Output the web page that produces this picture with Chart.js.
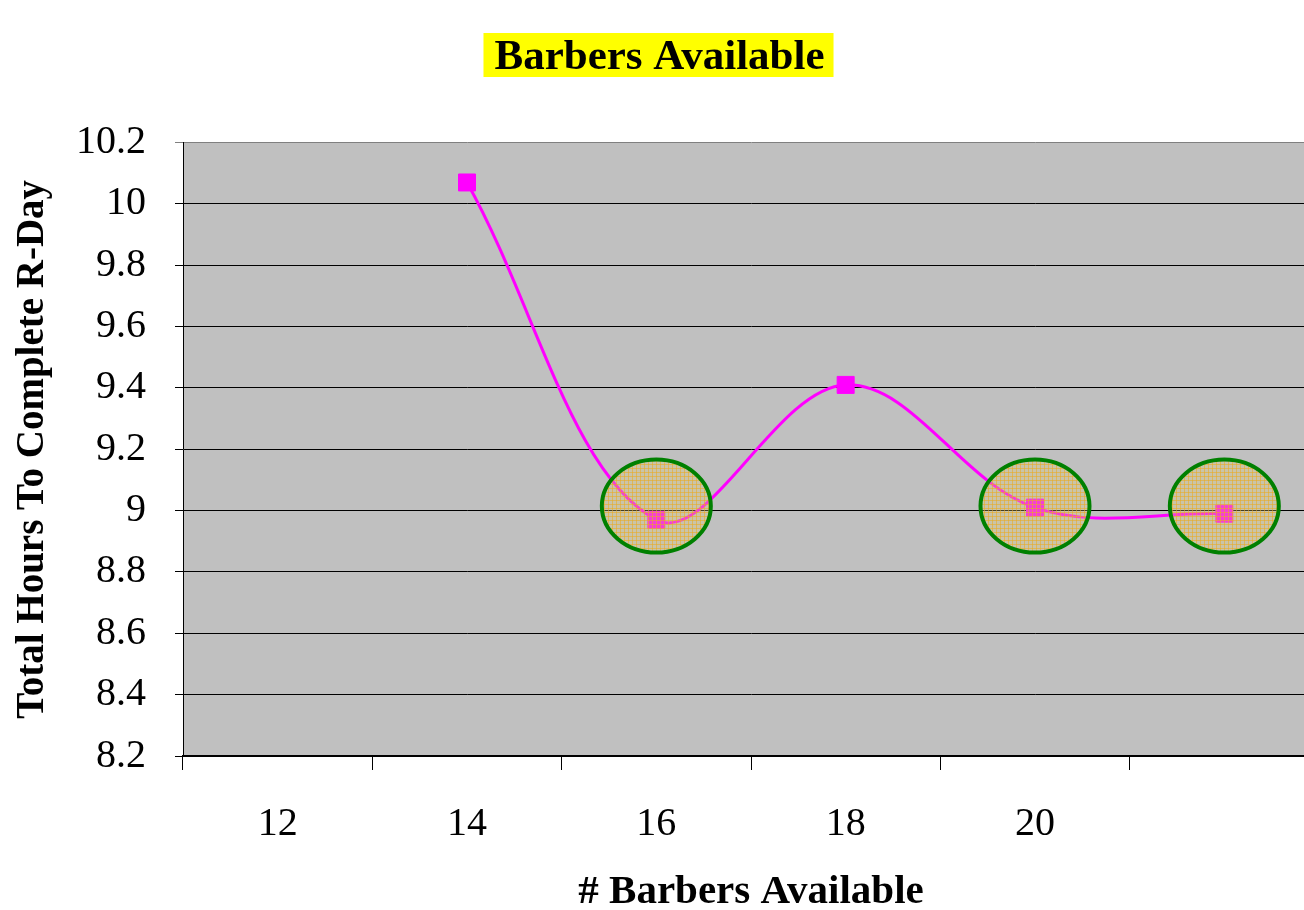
<!DOCTYPE html>
<html>
<head>
<meta charset="utf-8">
<script src="https://cdn.jsdelivr.net/npm/chart.js@4.4.1/dist/chart.umd.min.js"></script>
<style>
  html, body { margin: 0; padding: 0; background: #fff; overflow: hidden; }
  #chart { display: block; width: 1320px; height: 910px; }
</style>
</head>
<body>
<canvas id="chart" width="1320" height="910"></canvas>
<script>
// data
const barbers = ['12', '14', '16', '18', '20', ''];
const hours = [null, 10.07, 8.97, 9.41, 9.01, 8.99];
const circled = [2, 4, 5];      // indexes of the ringed points
const circleLevel = 9.015;      // rings all sit at this height
const yMin = 8.2, yMax = 10.2, yStep = 0.2;

const serif = "'Liberation Serif', 'Times New Roman', serif";
Chart.defaults.font.family = serif;
Chart.defaults.color = '#000';

// yellow-orange check pattern for the rings
function hatch(ctx) {
    const c = document.createElement('canvas');
    c.width = 4; c.height = 4;
    const g = c.getContext('2d');
    g.fillStyle = 'rgba(225,205,120,0.3)';
    g.fillRect(0, 0, 4, 4);
    g.fillStyle = 'rgba(235,170,30,0.55)';
    g.fillRect(0, 0, 4, 1);
    g.fillRect(0, 0, 1, 4);
    return ctx.createPattern(c, 'repeat');
}

const plotBg = {
    id: 'plotBg',
    beforeDraw(chart) {
        const {ctx, chartArea: a} = chart;
        ctx.save();
        ctx.fillStyle = '#c0c0c0';
        ctx.fillRect(a.left, a.top, a.right - a.left, a.bottom - a.top);
        // yellow box behind the title
        const t = chart.options.plugins.title;
        ctx.font = 'bold ' + t.font.size + 'px ' + serif;
        const w = ctx.measureText(t.text).width;
        const cx = (chart.titleBlock.left + chart.titleBlock.right) / 2;
        ctx.fillStyle = '#ffff00';
        ctx.fillRect(cx - w / 2 - 11, 33, w + 20, 44);
        ctx.restore();
    }
};

const rings = {
    id: 'rings',
    afterDatasetsDraw(chart) {
        const {ctx} = chart;
        const xs = chart.scales.x, ys = chart.scales.y;
        ctx.save();
        for (const i of circled) {
            const x = xs.getPixelForValue(i);
            const y = ys.getPixelForValue(circleLevel);
            ctx.beginPath();
            ctx.ellipse(x, y, 54.5, 46.5, 0, 0, Math.PI * 2);
            ctx.fillStyle = hatch(ctx);
            ctx.fill();
            ctx.lineWidth = 4;
            ctx.strokeStyle = '#008000';
            ctx.stroke();
        }
        ctx.restore();
    }
};

const chart = new Chart(document.getElementById('chart'), {
    type: 'line',
    data: {
        labels: barbers,
        datasets: [{
            data: hours,
            borderColor: '#ff00ff',
            borderWidth: 3,
            tension: 0.36,
            pointStyle: 'rect',
            pointRadius: 12,
            pointBackgroundColor: '#ff00ff',
            pointBorderColor: '#ff00ff',
            pointBorderWidth: 1
        }]
    },
    options: {
        responsive: false,
        animation: false,
        layout: { autoPadding: false, padding: { left: 0, right: 1, top: 0, bottom: 0 } },
        plugins: {
            legend: { display: false },
            tooltip: { enabled: false },
            title: {
                display: true,
                text: 'Barbers Available',
                font: { size: 43, weight: 'bold', family: serif },
                color: '#000',
                padding: { top: 32, bottom: 59 }
            }
        },
        scales: {
            x: {
                offset: true,
                grid: {
                    offset: true,
                    drawOnChartArea: false,
                    drawTicks: true,
                    tickLength: 14,
                    color: '#000'
                },
                border: { color: '#000', width: 2 },
                ticks: { font: { size: 40 }, padding: 30, maxRotation: 0, autoSkip: false },
                title: {
                    display: true,
                    text: '# Barbers Available',
                    font: { size: 41, weight: 'bold' },
                    padding: { top: 0, bottom: -7 }
                },
                afterFit(scale) { scale.height = 154; }
            },
            y: {
                min: yMin,
                max: yMax,
                grid: {
                    color: ctx => ctx.tick && ctx.tick.value >= yMax - 1e-6 ? '#808080' : '#000',
                    lineWidth: 1,
                    tickLength: 8
                },
                border: { color: '#000', width: 1 },
                ticks: {
                    stepSize: yStep,
                    font: { size: 40 },
                    padding: 29,
                    callback: v => String(+v.toFixed(1))
                },
                title: {
                    display: true,
                    text: 'Total Hours To Complete R-Day',
                    font: { size: 39, weight: 'bold' },
                    padding: { top: 10, bottom: 0 }
                },
                afterFit(scale) { scale.width = 183; }
            }
        }
    },
    plugins: [plotBg, rings]
});
</script>
</body>
</html>
